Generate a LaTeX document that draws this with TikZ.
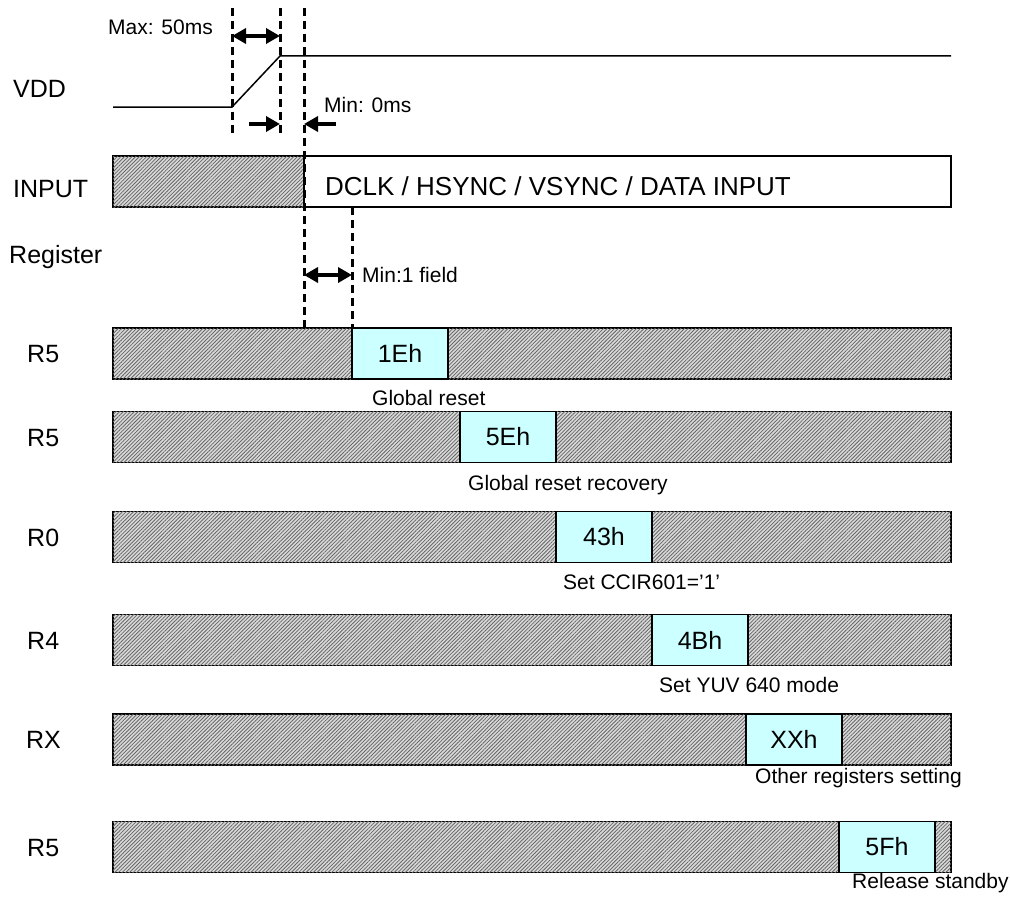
\documentclass[tikz,border=0pt]{standalone}
\usepackage{fontspec}
\setmainfont{Liberation Sans}
\usetikzlibrary{arrows.meta,patterns.meta}
\definecolor{cellblue}{HTML}{CCFFFF}
\tikzset{
  big/.style={font=\fontsize{25}{30}\selectfont, inner sep=0pt},
  small/.style={font=\fontsize{21}{25}\selectfont, inner sep=0pt},
  hatchbar/.style={draw=black, line width=1.8pt, minimum width=838pt, minimum height=51pt, inner sep=0pt,
    fill=gray!30, postaction={pattern={Lines[angle=45,distance=2.6pt,line width=0.8pt]}, pattern color=black!60}},
  regbox/.style={draw=black, line width=1.8pt, fill=cellblue, minimum width=96pt, minimum height=51pt, inner sep=0pt,
    font=\fontsize{25}{30}\selectfont},
  guide/.style={line width=3pt, dash pattern=on 8pt off 5pt},
  tip/.style={line width=3.5pt, -{Triangle[length=14pt,width=15pt]}},
  dtip/.style={line width=3.5pt, {Triangle[length=14pt,width=15pt]}-{Triangle[length=14pt,width=15pt]}},
  wave/.style={line width=1.5pt}
}
\begin{document}
\begin{tikzpicture}[x=1pt,y=-1pt]
\useasboundingbox (0,0) rectangle (1010,899);

% left labels
\node[big, anchor=base west] (lvdd) at (13,97) {VDD};
\node[big, anchor=base west] (linput) at (13,197) {INPUT};
\node[big, anchor=base west] (lreg) at (9,263) {Register};

% VDD waveform
\coordinate (v0) at (113,107);
\coordinate (v1) at (232,107);
\coordinate (v2) at (280,56);
\coordinate (v3) at (951,56);
\draw[wave] (v0) -- (v1) -- (v2) -- (v3);

% INPUT bar
\node[hatchbar, minimum width=191pt] (inh) at (208.5,181.5) {};
\node[draw=black, line width=1.8pt, fill=white, minimum width=647pt, minimum height=51pt, inner sep=0pt] (inw) at (627.5,181.5) {};
\node[inner sep=0pt, font=\fontsize{26}{30}\selectfont, anchor=base west] (intext) at (325,195) {DCLK / HSYNC / VSYNC / DATA INPUT};

% register bars
\node[hatchbar] (barA) at (532,353.5) {};
\node[hatchbar] (barB) at (532,437) {};
\node[hatchbar] (barC) at (532,537) {};
\node[hatchbar] (barD) at (532,640) {};
\node[hatchbar] (barE) at (532,739.5) {};
\node[hatchbar] (barF) at (532,847) {};

\node[regbox] (bA) at (400,353.5) {1Eh};
\node[regbox] (bB) at (508,437) {5Eh};
\node[regbox] (bC) at (604,537) {43h};
\node[regbox] (bD) at (700,640) {4Bh};
\node[regbox] (bE) at (794,739.5) {XXh};
\node[regbox] (bF) at (887,847) {5Fh};

% register names
\node[big, anchor=base west] (rA) at (27,362.5) {R5};
\node[big, anchor=base west] (rB) at (27,446) {R5};
\node[big, anchor=base west] (rC) at (27,546) {R0};
\node[big, anchor=base west] (rD) at (27,649) {R4};
\node[big, anchor=base west] (rE) at (26,748.5) {RX};
\node[big, anchor=base west] (rF) at (27,856) {R5};

% descriptions
\node[small, anchor=base west] (tA) at (372,405) {Global reset};
\node[small, anchor=base west] (tB) at (468,490) {Global reset recovery};
\node[small, anchor=base west] (tC) at (563,589) {Set CCIR601=’1’};
\node[small, anchor=base west] (tD) at (659,692) {Set YUV 640 mode};
\node[small, anchor=base west] (tE) at (755,783) {Other registers setting};
\node[small, anchor=base west] (tF) at (852,888) {Release standby};

% dashed guides
\coordinate (g1t) at (232,8);   \coordinate (g1b) at (232,135);
\coordinate (g2t) at (280,8);   \coordinate (g2b) at (280,135);
\coordinate (g3t) at (304,8);   \coordinate (g3b) at (304,328);
\coordinate (g4t) at (352,207); \coordinate (g4b) at (352,328);
\draw[guide] (g1t) -- (g1b);
\draw[guide] (g2t) -- (g2b);
\draw[guide] (g3t) -- (g3b);
\draw[guide] (g4t) -- (g4b);

% timing arrows
\coordinate (m1) at (232,36); \coordinate (m2) at (280,36);
\draw[dtip] (m1) -- (m2);
\node[small, anchor=base west] (tmax) at (108,35) {Max: 50ms};

\coordinate (a1) at (249,124); \coordinate (a2) at (280,124);
\draw[tip] (a1) -- (a2);
\coordinate (a3) at (336,124); \coordinate (a4) at (304,124);
\draw[tip] (a3) -- (a4);
\node[small, anchor=base west] (tmin0) at (324,112) {Min: 0ms};

\coordinate (f1) at (304,275); \coordinate (f2) at (352,275);
\draw[dtip] (f1) -- (f2);
\node[small, anchor=base west] (tfield) at (362,282) {Min:1 field};
\end{tikzpicture}
\end{document}
